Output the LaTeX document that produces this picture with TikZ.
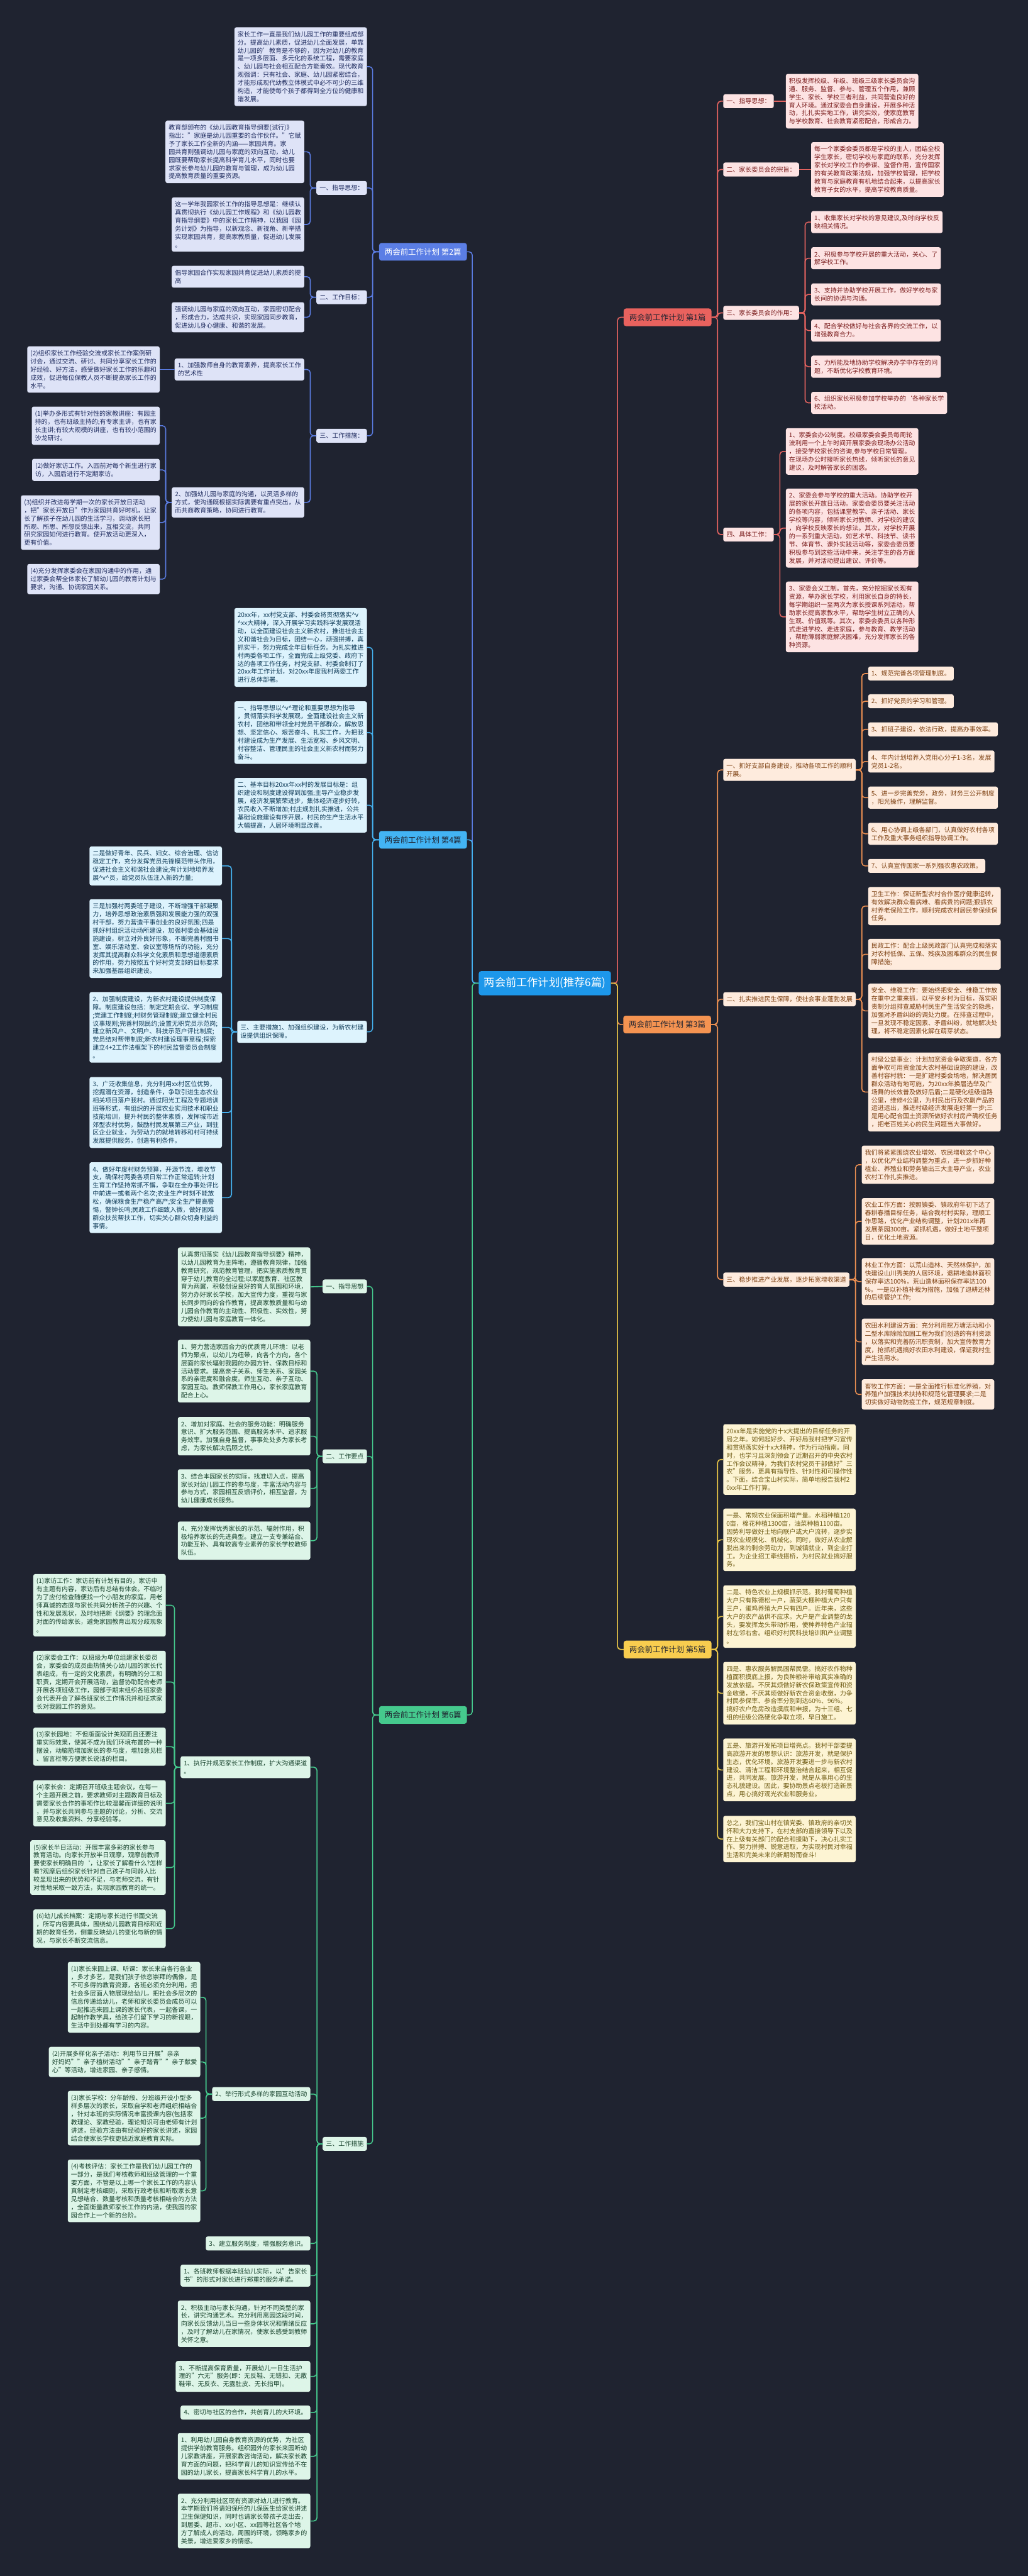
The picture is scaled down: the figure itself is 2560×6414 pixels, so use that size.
\documentclass[tikz,border=0pt]{standalone}
\usepackage{fontspec}
\setmainfont{Noto Sans CJK SC}
\definecolor{bg}{HTML}{1F2330}
\definecolor{rootbg}{HTML}{1D97EA}
\definecolor{redbr}{HTML}{E9625E}
\definecolor{redlt}{HTML}{FDE3E3}
\definecolor{redtx}{HTML}{7A1C1C}
\definecolor{redln}{HTML}{E36360}
\definecolor{orbr}{HTML}{F49351}
\definecolor{orlt}{HTML}{FEEBDD}
\definecolor{ortx}{HTML}{7C3F10}
\definecolor{orln}{HTML}{EE9152}
\definecolor{yebr}{HTML}{F8CD4F}
\definecolor{yelt}{HTML}{FDF4D3}
\definecolor{yetx}{HTML}{6E5A12}
\definecolor{yeln}{HTML}{E8C547}
\definecolor{pubr}{HTML}{5B7EE5}
\definecolor{pult}{HTML}{DEE3F7}
\definecolor{putx}{HTML}{1E2B5E}
\definecolor{puln}{HTML}{5A7BE0}
\definecolor{skbr}{HTML}{43B4F4}
\definecolor{sklt}{HTML}{DDF3FD}
\definecolor{sktx}{HTML}{0E3A57}
\definecolor{skln}{HTML}{45B2F0}
\definecolor{grbr}{HTML}{45C98D}
\definecolor{grlt}{HTML}{DDF5E8}
\definecolor{grtx}{HTML}{17422C}
\definecolor{grln}{HTML}{45C98D}
\newcommand\leaffont{\fontsize{15.7}{20.2}\selectfont}
\newcommand\branchfont{\fontsize{19.5}{24}\selectfont}
\newcommand\rootfont{\fontsize{27}{32}\selectfont}
\begin{document}
\begin{tikzpicture}[x=1pt, y=-1pt,
  leaf/.style 2 args={fill=#1, text=#2, rounded corners=5, inner xsep=8, inner ysep=10, align=left, font=\leaffont},
  branch/.style 2 args={fill=#1, text=#2, rounded corners=6, inner xsep=14, inner ysep=13, font=\branchfont},
  link/.style={draw=#1, line width=2.5, rounded corners=8},
  rl/.style={leaf={redlt}{redtx}}, ol/.style={leaf={orlt}{ortx}}, yl/.style={leaf={yelt}{yetx}},
  pl/.style={leaf={pult}{putx}}, sl/.style={leaf={sklt}{sktx}}, gl/.style={leaf={grlt}{grtx}}]
\fill[bg] (0,0) rectangle (2560,6414);
\useasboundingbox (0,0) rectangle (2560,6414);

\node[fill=rootbg, text=white, rounded corners=6, inner xsep=13, inner ysep=16, font=\rootfont] (root) at (1357,2448) {两会前工作计划(推荐6篇)};

% right side
\node[branch={redbr}{bg}, anchor=west] (b1) at (1553,790) {两会前工作计划 第1篇};
\node[branch={orbr}{bg}, anchor=west] (b3) at (1552,2551) {两会前工作计划 第3篇};
\node[branch={yebr}{bg}, anchor=west] (b5) at (1553,4107) {两会前工作计划 第5篇};
% left side
\node[branch={pubr}{white}, anchor=east] (b2) at (1163,627) {两会前工作计划 第2篇};
\node[branch={skbr}{bg}, anchor=east] (b4) at (1163,2091) {两会前工作计划 第4篇};
\node[branch={grbr}{bg}, anchor=east] (b6) at (1163,4270) {两会前工作计划 第6篇};

\draw[link=redln] (root.east) -- ++(16,0) |- (b1.west);
\draw[link=orln] (root.east) -- ++(16,0) |- (b3.west);
\draw[link=yeln] (root.east) -- ++(16,0) |- (b5.west);
\draw[link=puln] (root.west) -- ++(-16,0) |- (b2.east);
\draw[link=skln] (root.west) -- ++(-16,0) |- (b4.east);
\draw[link=grln] (root.west) -- ++(-16,0) |- (b6.east);

% 第1篇
\node[rl, anchor=west] (p1a) at (1801,252) {一、指导思想：};
\node[rl, anchor=west] (p1a1) at (1957,252) {积极发挥校级、年级、班级三级家长委员会沟\\
通、服务、监督、参与、管理五个作用，兼顾\\
学生、家长、学校三者利益，共同营造良好的\\
育人环境。通过家委会自身建设，开展多种活\\
动，扎扎实实地工作，讲究实效，使家庭教育\\
与学校教育、社会教育紧密配合，形成合力。};
\node[rl, anchor=west] (p1b) at (1801,422) {二、家长委员会的宗旨：};
\node[rl, anchor=west] (p1b1) at (2020,422) {每一个家委会委员都是学校的主人，团结全校\\
学生家长，密切学校与家庭的联系，充分发挥\\
家长对学校工作的参谋、监督作用，宣传国家\\
的有关教育政策法规，加强学校管理，把学校\\
教育与家庭教育有机地结合起来，以提高家长\\
教育子女的水平，提高学校教育质量。};
\node[rl, anchor=west] (p1c) at (1801,779) {三、家长委员会的作用：};
\node[rl, anchor=west] (p1c1) at (2020,553) {1、收集家长对学校的意见建议,及时向学校反\\映相关情况。};
\node[rl, anchor=west] (p1c2) at (2020,643) {2、积极参与学校开展的重大活动，关心、了\\解学校工作。};
\node[rl, anchor=west] (p1c3) at (2020,733) {3、支持并协助学校开展工作，做好学校与家\\长间的协调与沟通。};
\node[rl, anchor=west] (p1c4) at (2020,823) {4、配合学校做好与社会各界的交流工作，以\\增强教育合力。};
\node[rl, anchor=west] (p1c5) at (2020,913) {5、力所能及地协助学校解决办学中存在的问\\题，不断优化学校教育环境。};
\node[rl, anchor=west] (p1c6) at (2020,1003) {6、组织家长积极参加学校举办的\symbol{96}各种家长学\\校活动。};
\node[rl, anchor=west] (p1d) at (1801,1331) {四、具体工作：};
\node[rl, anchor=west] (p1d1) at (1957,1124) {1、家委会办公制度。校级家委会委员每周轮\\
流利用一个上午时间开展家委会现场办公活动\\
，接受学校家长的咨询,参与学校日常管理。\\
在现场办公时接听家长热线，倾听家长的意见\\
建议，及时解答家长的困惑。};
\node[rl, anchor=west] (p1d2) at (1957,1315) {2、家委会参与学校的重大活动。协助学校开\\
展的家长开放日活动。家委会委员要关注活动\\
的各项内容，包括课堂教学、亲子活动、家长\\
学校等内容，倾听家长对教师、对学校的建议\\
，向学校反映家长的想法。其次，对学校开展\\
的一系列重大活动，如艺术节、科技节、读书\\
节、体育节、课外实践活动等，家委会委员要\\
积极参与到这些活动中来，关注学生的各方面\\
发展，并对活动提出建议、评价等。};
\node[rl, anchor=west] (p1d3) at (1957,1536) {3、家委会义工制。首先，充分挖掘家长现有\\
资源，举办家长学校，利用家长自身的特长，\\
每学期组织一至两次为家长授课系列活动，帮\\
助家长提高家教水平，帮助学生树立正确的人\\
生观、价值观等。其次，家委会委员以各种形\\
式走进学校、走进家庭，参与教育、教学活动\\
，帮助薄弱家庭解决困难，充分发挥家长的各\\
种资源。};
\foreach \c in {p1a,p1b,p1c,p1d} \draw[link=redln] (b1.east) -- ++(15,0) |- (\c.west);
\draw[link=redln] (p1a.east) -- (p1a1.west);
\draw[link=redln] (p1b.east) -- (p1b1.west);
\foreach \c in {p1c1,p1c2,p1c3,p1c4,p1c5,p1c6} \draw[link=redln] (p1c.east) -- ++(15,0) |- (\c.west);
\foreach \c in {p1d1,p1d2,p1d3} \draw[link=redln] (p1d.east) -- ++(15,0) |- (\c.west);

% 第3篇
\node[ol, anchor=west] (p3a) at (1801,1917) {一、抓好支部自身建设，推动各项工作的顺利\\开展。};
\node[ol, anchor=west] (p3a1) at (2162,1677) {1、规范完善各项管理制度。};
\node[ol, anchor=west] (p3a2) at (2162,1746) {2、抓好党员的学习和管理。};
\node[ol, anchor=west] (p3a3) at (2162,1816) {3、抓班子建设，依法行政，提高办事效率。};
\node[ol, anchor=west] (p3a4) at (2162,1896) {4、年内计划培养入党用心分子1-3名，发展\\党员1-2名。};
\node[ol, anchor=west] (p3a5) at (2162,1986) {5、进一步完善党务，政务，财务三公开制度\\，阳光操作，理解监督。};
\node[ol, anchor=west] (p3a6) at (2162,2076) {6、用心协调上级各部门，认真做好农村各项\\工作及重大事务组织指导协调工作。};
\node[ol, anchor=west] (p3a7) at (2162,2156) {7、认真宣传国家一系列强农惠农政策。};
\node[ol, anchor=west] (p3b) at (1801,2488) {二、扎实推进民生保障，使社会事业蓬勃发展};
\node[ol, anchor=west] (p3b1) at (2162,2256) {卫生工作：保证新型农村合作医疗健康运转，\\
有效解决群众看病难、看病贵的问题;狠抓农\\
村养老保险工作，顺利完成农村居民参保续保\\
任务。};
\node[ol, anchor=west] (p3b2) at (2162,2376) {民政工作：配合上级民政部门认真完成和落实\\
对农村低保、五保、残疾及困难群众的民生保\\
障措施;};
\node[ol, anchor=west] (p3b3) at (2162,2517) {安全、维稳工作：要始终把安全、维稳工作放\\
在重中之重来抓，以平安乡村为目标，落实职\\
责制分组排查威胁村民生产生活安全的隐患，\\
加强对矛盾纠纷的调处力度。在排查过程中，\\
一旦发现不稳定因素、矛盾纠纷，就地解决处\\
理，将不稳定因素化解在萌芽状态。};
\node[ol, anchor=west] (p3b4) at (2162,2719) {村级公益事业：计划加宽资金争取渠道，各方\\
面争取可用资金加大农村基础设施的建设，改\\
善村容村貌：一是扩建村委会场地，解决居民\\
群众活动有地可施，为20xx年换届选举及广\\
场舞的长效普及做好后盾;二是硬化组级道路\\
公里，维修4公里，为村民出行及农副产品的\\
运进运出，推进村级经济发展走好第一步;三\\
是用心配合国土资源所做好农村房产确权任务\\
，把老百姓关心的民生问题当大事做好。};
\node[ol, anchor=west] (p3c) at (1801,3186) {三、稳步推进产业发展，逐步拓宽增收渠道};
\node[ol, anchor=west] (p3c1) at (2146,2900) {我们将紧紧围绕农业增效、农民增收这个中心\\
，以优化产业结构调整为重点，进一步抓好种\\
植业、养殖业和劳务输出三大主导产业，农业\\
农村工作扎实推进。};
\node[ol, anchor=west] (p3c2) at (2146,3041) {农业工作方面：按照镇委、镇政府年初下达了\\
春耕春播目标任务，结合我村村实际，理顺工\\
作思路，优化产业结构调整，计划201x年再\\
发展茶园300亩。紧抓机遇，做好土地平整项\\
目，优化土地资源。};
\node[ol, anchor=west] (p3c3) at (2146,3191) {林业工作方面：以荒山造林、天然林保护，加\\
快建设山川秀美的人居环境，退耕地造林面积\\
保存率达100\%，荒山造林面积保存率达100\\
\%。一是以补植补栽为措施，加强了退耕还林\\
的后续管护工作;};
\node[ol, anchor=west] (p3c4) at (2146,3341) {农田水利建设方面：充分利用挖万塘活动和小\\
二型水库除险加固工程为我们创造的有利资源\\
，以落实和完善防汛职责制，加大宣传教育力\\
度，抢抓机遇搞好农田水利建设，保证我村生\\
产生活用水。};
\node[ol, anchor=west] (p3c5) at (2146,3472) {畜牧工作方面：一是全面推行标准化养殖，对\\
养殖户加强技术扶持和规范化管理要求;二是\\
切实做好动物防疫工作，规范规章制度。};
\foreach \c in {p3a,p3b,p3c} \draw[link=orln] (b3.east) -- ++(16,0) |- (\c.west);
\foreach \c in {p3a1,p3a2,p3a3,p3a4,p3a5,p3a6,p3a7} \draw[link=orln] (p3a.east) -- ++(15,0) |- (\c.west);
\foreach \c in {p3b1,p3b2,p3b3,p3b4} \draw[link=orln] (p3b.east) -- ++(15,0) |- (\c.west);
\foreach \c in {p3c1,p3c2,p3c3,p3c4,p3c5} \draw[link=orln] (p3c.east) -- ++(15,0) |- (\c.west);

% 第5篇
\node[yl, anchor=west] (p5a) at (1801,3634) {20xx年是实施党的十x大提出的目标任务的开\\
局之年。如何起好步、开好局我村把学习宣传\\
和贯彻落实好十x大精神，作为行动指南。同\\
时，也学习且深刻领会了近期召开的中央农村\\
工作会议精神，为我们农村党员干部做好"三\\
农"服务，更具有指导性、针对性和可操作性\\
。下面，结合宝山村实际，简单地报告我村2\\
0xx年工作打算。};
\node[yl, anchor=west] (p5b) at (1801,3834) {一是、常规农业保面积增产量。水稻种植120\\
0亩，棉花种植1300亩，油菜种植1100亩。\\
因势利导做好土地向联户或大户流转，逐步实\\
现农业规模化、机械化。同时，做好从农业解\\
脱出来的剩余劳动力，到城镇就业，到企业打\\
工。为企业招工牵线搭桥，为村民就业搞好服\\
务。};
\node[yl, anchor=west] (p5c) at (1801,4025) {二是、特色农业上规模抓示范。我村葡萄种植\\
大户只有陈德松一户，蔬菜大棚种植大户只有\\
三户，蛋鸡养殖大户只有四户。近年来，这些\\
大户的农产品供不应求。大户是产业调整的龙\\
头，要发挥龙头带动作用，使种养特色产业辐\\
射左邻右舍。组织好村民科技培训和产业调整\\
。};
\node[yl, anchor=west] (p5d) at (1801,4216) {四是、惠农服务解民困帮民需。搞好农作物种\\
植面积摸底上报，为良种粮补带给真实准确的\\
发放依据。不厌其烦做好新农保政策宣传和资\\
金收缴，不厌其烦做好新农合资金收缴，力争\\
村民参保率、参合率分别到达60\%、96\%。\\
搞好农户危房改造摸底和申报，为十三组、七\\
组的组级公路硬化争取立项，早日施工。};
\node[yl, anchor=west] (p5e) at (1801,4407) {五是、旅游开发拓项目增亮点。我村干部要提\\
高旅游开发的思想认识：旅游开发，就是保护\\
生态，优化环境。旅游开发要进一步与新农村\\
建设、清洁工程和环境整治结合起来，相互促\\
进，共同发展。旅游开发，就是从事用心的生\\
态礼貌建设。因此，要协助景点老板打造新景\\
点，用心搞好观光农业和服务业。};
\node[yl, anchor=west] (p5f) at (1801,4579) {总之，我们宝山村在镇党委、镇政府的亲切关\\
怀和大力支持下，在村支部的直接领导下以及\\
在上级有关部门的配合和援助下，决心扎实工\\
作、努力拼搏、锐意进取，为实现村民对幸福\\
生活和完美未来的新期盼而奋斗!};
\foreach \c in {p5a,p5b,p5c,p5d,p5e,p5f} \draw[link=yeln] (b5.east) -- ++(15,0) |- (\c.west);

% 第2篇
\node[pl, anchor=east] (p2t) at (914,166) {家长工作一直是我们幼儿园工作的重要组成部\\
分。提高幼儿素质，促进幼儿全面发展，单靠\\
幼儿园的'教育是不够的，因为对幼儿的教育\\
是一项多层面、多元化的系统工程，需要家庭\\
、幼儿园与社会相互配合方能奏效。现代教育\\
观强调：只有社会、家庭、幼儿园紧密结合，\\
才能形成现代幼教立体模式中必不可少的三维\\
构造，才能使每个孩子都得到全方位的健康和\\
谐发展。};
\node[pl, anchor=east] (p2a) at (914,468) {一、指导思想：};
\node[pl, anchor=east] (p2a1) at (758,378) {教育部颁布的《幼儿园教育指导纲要(试行)》\\
指出："家庭是幼儿园重要的合作伙伴。"它赋\\
予了家长工作全新的内涵——家园共育。家\\
园共育则强调幼儿园与家庭的双向互动，幼儿\\
园既要帮助家长提高科学育儿水平，同时也要\\
求家长参与幼儿园的教育与管理，成为幼儿园\\
提高教育质量的重要资源。};
\node[pl, anchor=east] (p2a2) at (758,559) {这一学年我园家长工作的指导思想是：继续认\\
真贯彻执行《幼儿园工作规程》和《幼儿园教\\
育指导纲要》中的家长工作精神，以我园《园\\
务计划》为指导，以新观念、新视角、新举措\\
实现家园共育，提高家教质量，促进幼儿发展\\
。};
\node[pl, anchor=east] (p2b) at (914,740) {二、工作目标：};
\node[pl, anchor=east] (p2b1) at (758,689) {倡导家园合作实现家园共育促进幼儿素质的提\\高};
\node[pl, anchor=east] (p2b2) at (758,790) {强调幼儿园与家庭的双向互动，家园密切配合\\
，形成合力，达成共识，实现家园同步教育，\\
促进幼儿身心健康、和谐的发展。};
\node[pl, anchor=east] (p2c) at (914,1085) {三、工作措施：};
\node[pl, anchor=east] (p2c1) at (758,920) {1、加强教师自身的教育素养，提高家长工作\\的艺术性};
\node[pl, anchor=east] (p2c1a) at (398,920) {(2)组织家长工作经验交流或家长工作案例研\\
讨会，通过交流、研讨、共同分享家长工作的\\
好经验、好方法，感受做好家长工作的乐趣和\\
成效，促进每位保教人员不断提高家长工作的\\
水平。};
\node[pl, anchor=east] (p2c2) at (758,1251) {2、加强幼儿园与家庭的沟通，以灵活多样的\\
方式，使沟通既根据实际需要有重点突出，从\\
而共商教育策略，协同进行教育。};
\node[pl, anchor=east] (p2c2a) at (398,1060) {(1)举办多形式有针对性的家教讲座：有园主\\
持的，也有班级主持的;有专家主讲，也有家\\
长主讲;有较大规模的讲座，也有较小范围的\\
沙龙研讨。};
\node[pl, anchor=east] (p2c2b) at (398,1170) {(2)做好家访工作。入园前对每个新生进行家\\访，入园后进行不定期家访。};
\node[pl, anchor=east] (p2c2c) at (398,1301) {(3)组织并改进每学期一次的家长开放日活动\\
，把"家长开放日"作为家园共育好时机，让家\\
长了解孩子在幼儿园的生活学习，调动家长把\\
所观、所思、所想反馈出来，互相交流，共同\\
研究家园如何进行教育。使开放活动更深入，\\
更有价值。};
\node[pl, anchor=east] (p2c2d) at (398,1442) {(4)充分发挥家委会在家园沟通中的作用，通\\
过家委会帮全体家长了解幼儿园的教育计划与\\
要求，沟通、协调家园关系。};
\foreach \c in {p2t,p2a,p2b,p2c} \draw[link=puln] (b2.west) -- ++(-16,0) |- (\c.east);
\foreach \c in {p2a1,p2a2} \draw[link=puln] (p2a.west) -- ++(-15,0) |- (\c.east);
\foreach \c in {p2b1,p2b2} \draw[link=puln] (p2b.west) -- ++(-15,0) |- (\c.east);
\foreach \c in {p2c1,p2c2} \draw[link=puln] (p2c.west) -- ++(-15,0) |- (\c.east);
\draw[link=puln] (p2c1.west) -- (p2c1a.east);
\foreach \c in {p2c2a,p2c2b,p2c2c,p2c2d} \draw[link=puln] (p2c2.west) -- ++(-15,0) |- (\c.east);

% 第4篇
\node[sl, anchor=east] (p4a) at (914,1612) {20xx年，xx村党支部、村委会将贯彻落实\textasciicircum{}v\\
\textasciicircum{}xx大精神，深入开展学习实践科学发展观活\\
动，以全面建设社会主义新农村，推进社会主\\
义和谐社会为目标，团结一心，顽强拼搏，真\\
抓实干，努力完成全年目标任务。为扎实推进\\
村两委各项工作，全面完成上级党委、政府下\\
达的各项工作任务，村党支部、村委会制订了\\
20xx年工作计划，对20xx年度我村两委工作\\
进行总体部署。};
\node[sl, anchor=east] (p4b) at (914,1824) {一、指导思想以\textasciicircum{}v\textasciicircum{}理论和重要思想为指导\\
，贯彻落实科学发展观，全面建设社会主义新\\
农村，团结和带领全村党员干部群众，解放思\\
想、坚定信心、艰苦奋斗、扎实工作，为把我\\
村建设成为生产发展、生活宽裕、乡风文明、\\
村容整洁、管理民主的社会主义新农村而努力\\
奋斗。};
\node[sl, anchor=east] (p4c) at (914,2005) {二、基本目标20xx年xx村的发展目标是：组\\
织建设和制度建设得到加强;主导产业稳步发\\
展，经济发展繁荣进步，集体经济逐步好转，\\
农民收入不断增加;村庄规划扎实推进，公共\\
基础设施建设有序开展，村民的生产生活水平\\
大幅提高，人居环境明显改善。};
\node[sl, anchor=east] (p4d) at (914,2569) {三、主要措施1、加强组织建设，为新农村建\\设提供组织保障。};
\node[sl, anchor=east] (p4d1) at (553,2156) {二是做好青年、民兵、妇女、综合治理、信访\\
稳定工作，充分发挥党员先锋模范带头作用，\\
促进社会主义和谐社会建设;有计划地培养发\\
展\textasciicircum{}v\textasciicircum{}员，给党员队伍注入新的力量;};
\node[sl, anchor=east] (p4d2) at (553,2337) {三是加强村两委班子建设，不断增强干部凝聚\\
力，培养思想政治素质强和发展能力强的双强\\
村干部，努力营造干事创业的良好氛围;四是\\
抓好村组织活动场所建设，加强村委会基础设\\
施建设，树立对外良好形象，不断完善村图书\\
室、娱乐活动室、会议室等场所的功能，充分\\
发挥其提高群众科学文化素质和思想道德素质\\
的作用，努力按照五个好村党支部的目标要求\\
来加强基层组织建设。};
\node[sl, anchor=east] (p4d3) at (553,2558) {2、加强制度建设，为新农村建设提供制度保\\
障。制度建设包括：制定定期会议、学习制度\\
;党建工作制度;村财务管理制度;建立健全村民\\
议事规则;完善村规民约;设置无职党员示范岗;\\
建立新风户、文明户、科技示范户评比制度;\\
党员结对帮带制度;新农村建设理事章程;探索\\
建立4+2工作法框架下的村民监督委员会制度\\
。};
\node[sl, anchor=east] (p4d4) at (553,2770) {3、广泛收集信息，充分利用xx村区位优势，\\
挖掘潜在资源，创造条件，争取引进生态农业\\
相关项目落户我村。通过阳光工程及专题培训\\
班等形式，有组织的开展农业实用技术和职业\\
技能培训，提升村民的整体素质，发挥城市近\\
郊型农村优势，鼓励村民发展第三产业，到驻\\
区企业就业，为劳动力的就地转移和村可持续\\
发展提供服务，创造有利条件。};
\node[sl, anchor=east] (p4d5) at (553,2982) {4、做好年度村财务预算，开源节流，增收节\\
支，确保村两委各项日常工作正常运转;计划\\
生育工作坚持常抓不懈，争取在全办事处评比\\
中前进一或者两个名次;农业生产时刻不能放\\
松，确保粮食生产稳产高产;安全生产提高警\\
惕，警钟长鸣;民政工作细致入微，做好困难\\
群众扶贫帮扶工作，切实关心群众切身利益的\\
事情。};
\foreach \c in {p4a,p4b,p4c,p4d} \draw[link=skln] (b4.west) -- ++(-16,0) |- (\c.east);
\foreach \c in {p4d1,p4d2,p4d3,p4d4,p4d5} \draw[link=skln] (p4d.west) -- ++(-14,0) |- (\c.east);

% 第6篇
\node[gl, anchor=east] (p6a) at (914,3203) {一、指导思想};
\node[gl, anchor=east] (p6a1) at (773,3204) {认真贯彻落实《幼儿园教育指导纲要》精神，\\
以幼儿园教育为主阵地，遵循教育规律，加强\\
教育研究，规范教育管理，把实施素质教育贯\\
穿于幼儿教育的全过程;以家庭教育、社区教\\
育为两翼，积极创设良好的育人氛围和环境，\\
努力办好家长学校，加大宣传力度，重视与家\\
长同步同向的合作教育，提高家教质量和与幼\\
儿园合作教育的主动性、积极性、实效性，努\\
力使幼儿园与家庭教育一体化。};
\node[gl, anchor=east] (p6b) at (914,3626) {二、工作要点};
\node[gl, anchor=east] (p6b1) at (773,3414) {1、努力营造家园合力的优质育儿环境：以老\\
师为聚点，以幼儿为纽带，向各个方向，各个\\
层面的家长辐射我园的办园方针、保教目标和\\
活动要求。提高亲子关系、师生关系、家园关\\
系的亲密度和融合度。师生互动、亲子互动、\\
家园互动。教师保教工作用心，家长家庭教育\\
配合上心。};
\node[gl, anchor=east] (p6b2) at (773,3576) {2、增加对家庭、社会的服务功能：明确服务\\
意识、扩大服务范围、提高服务水平、追求服\\
务效率。加强自身监督，事事处处多为家长考\\
虑，为家长解决后顾之忧。};
\node[gl, anchor=east] (p6b3) at (773,3706) {3、结合本园家长的实际，找准切入点，提高\\
家长对幼儿园工作的参与度，丰富活动内容与\\
参与方式，家园相互反馈评价，相互监督，为\\
幼儿健康成长服务。};
\node[gl, anchor=east] (p6b4) at (773,3836) {4、充分发挥优秀家长的示范、辐射作用，积\\
极培养家长的先进典型。建立一支专兼结合、\\
功能互补、具有较高专业素养的家长学校教师\\
队伍。};
\node[gl, anchor=east] (p6c) at (914,5338) {三、工作措施};
\node[gl, anchor=east] (p6c1) at (773,4400) {1、执行并规范家长工作制度，扩大沟通渠道\\。};
\node[gl, anchor=east] (p6c1a) at (413,3997) {(1)家访工作：家访前有计划有目的，家访中\\
有主题有内容，家访后有总结有体会。不临时\\
为了应付检查随便找一个小朋友的家庭，用老\\
师真诚的态度与家长共同分析孩子的兴趣、个\\
性和发展现状，及时地把新《纲要》的理念面\\
对面的传给家长，避免家园教育出现分歧现象\\
。};
\node[gl, anchor=east] (p6c1b) at (413,4188) {(2)家委会工作：以班级为单位组建家长委员\\
会，家委会的成员由热情关心幼儿园的家长代\\
表组成，有一定的文化素质，有明确的分工和\\
职责，定期开会开展活动，监督协助配合老师\\
开展各项班级工作，园部于期末组织各班家委\\
会代表开会了解各班家长工作情况并和征求家\\
长对我园工作的意见。};
\node[gl, anchor=east] (p6c1c) at (413,4349) {(3)家长园地：不但版面设计美观而且还要注\\
重实际效果，使其不成为我们环境布置的一种\\
摆设，动脑筋增加家长的参与度，增加意见栏\\
、留言栏等方便家长说话的栏目。};
\node[gl, anchor=east] (p6c1d) at (413,4490) {(4)家长会：定期召开班级主题会议，在每一\\
个主题开展之前，要求教师对主题教育目标及\\
需要家长合作的事项作比较温馨而详细的说明\\
，并与家长共同参与主题的讨论，分析、交流\\
意见及收集资料、分享经验等。};
\node[gl, anchor=east] (p6c1e) at (413,4650) {(5)家长半日活动：开展丰富多彩的家长参与\\
教育活动。向家长开放半日观摩，观摩前教师\\
要使家长明确目的\symbol{96}，让家长了解看什么?怎样\\
看?观摩后组织家长针对自己孩子与同龄人比\\
较显现出来的优势和不足，与老师交流，有针\\
对性地采取一致方法，实现家园教育的统一。};
\node[gl, anchor=east] (p6c1f) at (413,4802) {(6)幼儿成长档案：定期与家长进行书面交流\\
，所写内容要具体，围绕幼儿园教育目标和近\\
期的教育任务，侧重反映幼儿的变化与新的情\\
况，与家长不断交流信息。};
\node[gl, anchor=east] (p6c2) at (773,5214) {2、举行形式多样的家园互动活动};
\node[gl, anchor=east] (p6c2a) at (499,4973) {(1)家长来园上课、听课：家长来自各行各业\\
，多才多艺，是我们孩子依恋崇拜的偶像，是\\
不可多得的教育资源，各班必须充分利用，把\\
社会多层面人物展现给幼儿，把社会多层次的\\
信息传递给幼儿，老师和家长委员会成员可以\\
一起推选来园上课的家长代表，一起备课，一\\
起制作教学具，给孩子们留下学习的新视眼，\\
生活中到处都有学习的内容。};
\node[gl, anchor=east] (p6c2b) at (499,5134) {(2)开展多样化亲子活动：利用节日开展"亲亲\\
好妈妈""亲子植树活动""亲子踏青""亲子献爱\\
心"等活动，增进家园、亲子感情。};
\node[gl, anchor=east] (p6c2c) at (499,5274) {(3)家长学校：分年龄段、分班级开设小型多\\
样多层次的家长，采取自学和老师组织相结合\\
，针对本班的实际情况丰富授课内容(包括家\\
教理论、家教经验，理论知识可由老师有计划\\
讲述，经验方法由有经验好的家长讲述，家园\\
结合使家长学校更贴近家庭教育实际。};
\node[gl, anchor=east] (p6c2d) at (499,5455) {(4)考核评估：家长工作是我们幼儿园工作的\\
一部分，是我们考核教师和班级管理的一个重\\
要方面，不管是以上哪一个家长工作的内容认\\
真制定考核细则，采取行政考核和听取家长意\\
见想结合、数量考核和质量考核相结合的方法\\
，全面衡量教师家长工作的内涵，使我园的家\\
园合作上一个新的台阶。};
\node[gl, anchor=east] (p6c3) at (773,5586) {3、建立服务制度，增强服务意识。};
\node[gl, anchor=east] (p6c4) at (773,5666) {1、各班教师根据本班幼儿实际，以"告家长\\书"的形式对家长进行郑重的服务承诺。};
\node[gl, anchor=east] (p6c5) at (773,5786) {2、积极主动与家长沟通，针对不同类型的家\\
长，讲究沟通艺术。充分利用离园这段时间，\\
向家长反馈幼儿当日一些身体状况和情绪反应\\
，及时了解幼儿在家情况，使家长感受到教师\\
关怀之意。};
\node[gl, anchor=east] (p6c6) at (773,5917) {3、不断提高保育质量，开展幼儿一日生活护\\
理的"六无"服务(即：无反鞋、无错扣、无散\\
鞋带、无反衣、无露肚皮、无长指甲)。};
\node[gl, anchor=east] (p6c7) at (773,6007) {4、密切与社区的合作，共创育儿的大环境。};
\node[gl, anchor=east] (p6c8) at (773,6116) {1、利用幼儿园自身教育资源的优势，为社区\\
提供学前教育服务。组织园外的家长来园听幼\\
儿家教讲座，开展家教咨询活动，解决家长教\\
育方面的问题，把科学育儿的知识宣传给不在\\
园的幼儿家长，提高家长科学育儿的水平。};
\node[gl, anchor=east] (p6c9) at (773,6277) {2、充分利用社区现有资源对幼儿进行教育。\\
本学期我们将请妇保所的儿保医生给家长讲述\\
卫生保健知识，同时也请家长带孩子走出去，\\
到居委、超市、xx小区、xx园等社区各个地\\
方了解成人的活动，周围的环境，领略家乡的\\
美景，增进爱家乡的情感。};
\foreach \c in {p6a,p6b,p6c} \draw[link=grln] (b6.west) -- ++(-16,0) |- (\c.east);
\draw[link=grln] (p6a.west) -- (p6a1.east);
\foreach \c in {p6b1,p6b2,p6b3,p6b4} \draw[link=grln] (p6b.west) -- ++(-14,0) |- (\c.east);
\foreach \c in {p6c1,p6c2,p6c3,p6c4,p6c5,p6c6,p6c7,p6c8,p6c9} \draw[link=grln] (p6c.west) -- ++(-14,0) |- (\c.east);
\foreach \c in {p6c1a,p6c1b,p6c1c,p6c1d,p6c1e,p6c1f} \draw[link=grln] (p6c1.west) -- ++(-15,0) |- (\c.east);
\foreach \c in {p6c2a,p6c2b,p6c2c,p6c2d} \draw[link=grln] (p6c2.west) -- ++(-15,0) |- (\c.east);
\end{tikzpicture}
\end{document}
